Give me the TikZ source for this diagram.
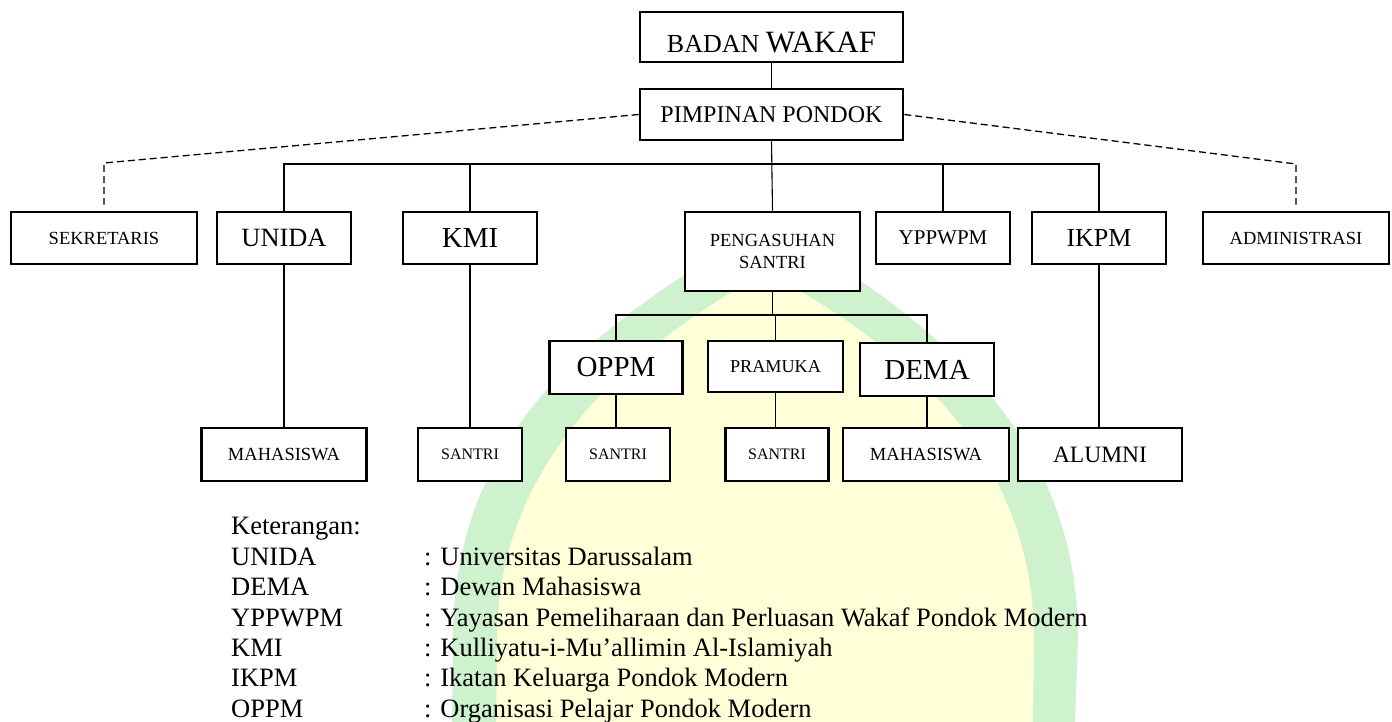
\documentclass[tikz,border=0pt]{standalone}
\usepackage{fontspec}
\setmainfont{Liberation Serif}
\newcommand\fs[2]{\fontsize{#1}{#2}\selectfont}
\definecolor{wmgreen}{RGB}{205,242,205}
\definecolor{wmyellow}{RGB}{255,255,216}
\begin{document}
\begin{tikzpicture}[x=1pt,y=-1pt,
  bx/.style={draw=black, line width=2.6pt, fill=white, inner sep=0pt, align=center},
  conn/.style={line width=1.1pt},
  dsh/.style={line width=1.3pt, dash pattern=on 7pt off 4pt},
  lg/.style={inner sep=0pt, anchor=base west, font=\fs{26.5}{30}}]
\useasboundingbox (0,0) rectangle (1392,722);
% watermark
\fill[wmgreen] (452,722) -- (453,640) .. controls (453,470) and (545,345) .. (770,225)
  .. controls (985,345) and (1078,470) .. (1078,640) -- (1075,722) -- cycle;
\fill[wmyellow] (496,722) -- (497,640) .. controls (497,490) and (590,370) .. (766,272)
  .. controls (950,370) and (1034,490) .. (1034,640) -- (1033,722) -- cycle;

% boxes
\node[bx, minimum width=263, minimum height=50, text height=30.5pt, text depth=0pt] (bw) at (771.5,37) {\fs{26}{30}BADAN \fs{31}{36}WAKAF};
\node[bx, minimum width=263, minimum height=51, font=\fs{24}{28}] (pp) at (771.5,114.5) {PIMPINAN PONDOK};

\node[bx, minimum width=186, minimum height=52, font=\fs{18.5}{22}] (sek) at (104,238) {SEKRETARIS};
\node[bx, minimum width=134, minimum height=52, font=\fs{26.4}{30}] (unida) at (284,238) {UNIDA};
\node[bx, minimum width=134, minimum height=52, font=\fs{29}{33}] (kmi) at (470,238) {KMI};
\node[bx, minimum width=175, minimum height=79, font=\fs{18.5}{22}] (peng) at (772.5,251.5) {PENGASUHAN\\SANTRI};
\node[bx, minimum width=134, minimum height=52, font=\fs{21}{25}] (ypp) at (943,238) {YPPWPM};
\node[bx, minimum width=134, minimum height=52, font=\fs{26}{30}] (ikpm) at (1099,238) {IKPM};
\node[bx, minimum width=186, minimum height=52, font=\fs{18.5}{22}] (adm) at (1296,238) {ADMINISTRASI};

\node[bx, minimum width=133, minimum height=53, font=\fs{29}{33}] (oppm) at (616,367.5) {OPPM};
\node[bx, minimum width=135, minimum height=51, font=\fs{18.2}{22}] (pram) at (775.5,366.5) {PRAMUKA};
\node[bx, minimum width=134, minimum height=53, font=\fs{29}{33}] (dema) at (927,369.5) {DEMA};

\node[bx, minimum width=165, minimum height=53, font=\fs{18.5}{22}] (mah1) at (284,454.5) {MAHASISWA};
\node[bx, minimum width=104, minimum height=53, font=\fs{16}{20}] (san1) at (470,454.5) {SANTRI};
\node[bx, minimum width=104, minimum height=53, font=\fs{16}{20}] (san2) at (618,454.5) {SANTRI};
\node[bx, minimum width=103, minimum height=53, font=\fs{16}{20}] (san3) at (777,454.5) {SANTRI};
\node[bx, minimum width=166, minimum height=53, font=\fs{18.5}{22}] (mah2) at (926,454.5) {MAHASISWA};
\node[bx, minimum width=164, minimum height=53, font=\fs{23.5}{28}] (alum) at (1100,454.5) {ALUMNI};

% connectors
\coordinate (bus) at (773,164);
\coordinate (sbus) at (775,315);
\coordinate (dl) at (104,163);
\coordinate (dr) at (1296,164);
\draw[conn] (bw.south) -- (pp.north);
\draw[conn] (pp.south) -- (peng.north);
\draw[conn] (unida.north) -- (unida.north |- bus) -- (ikpm.north |- bus) -- (ikpm.north);
\draw[conn] (kmi.north) -- (kmi.north |- bus);
\draw[conn] (ypp.north) -- (ypp.north |- bus);
\draw[dsh] (pp.west) -- (dl) -- ([yshift=6pt]sek.north);
\draw[dsh] (pp.east) -- (dr) -- ([yshift=6pt]adm.north);
\draw[conn] (unida.south) -- (unida.south |- mah1.north);
\draw[conn] (kmi.south) -- (kmi.south |- san1.north);
\draw[conn] (ikpm.south) -- (ikpm.south |- alum.north);
\draw[conn] (peng.south) -- (peng.south |- sbus);
\draw[conn] (oppm.north) -- (oppm.north |- sbus) -- (dema.north |- sbus) -- (dema.north);
\draw[conn] (pram.north) -- (pram.north |- sbus);
\draw[conn] (oppm.south) -- (oppm.south |- san2.north);
\draw[conn] (pram.south) -- (pram.south |- san3.north);
\draw[conn] (dema.south) -- (dema.south |- mah2.north);

% legend
\node[lg] (ket) at (231,534) {Keterangan:};
\node[lg] (l1) at (231,565) {UNIDA};
\node[lg] (l2) at (231,595.5) {DEMA};
\node[lg] (l3) at (231,626) {YPPWPM};
\node[lg] (l4) at (231,656) {KMI};
\node[lg] (l5) at (231,686.5) {IKPM};
\node[lg] (l6) at (231,717) {OPPM};
\node[lg] (d1) at (424,565) {: Universitas Darussalam};
\node[lg] (d2) at (424,595.5) {: Dewan Mahasiswa};
\node[lg] (d3) at (424,626) {: Yayasan Pemeliharaan dan Perluasan Wakaf Pondok Modern};
\node[lg] (d4) at (424,656) {: Kulliyatu-i-Mu’allimin Al-Islamiyah};
\node[lg] (d5) at (424,686.5) {: Ikatan Keluarga Pondok Modern};
\node[lg] (d6) at (424,717) {: Organisasi Pelajar Pondok Modern};
\end{tikzpicture}
\end{document}
